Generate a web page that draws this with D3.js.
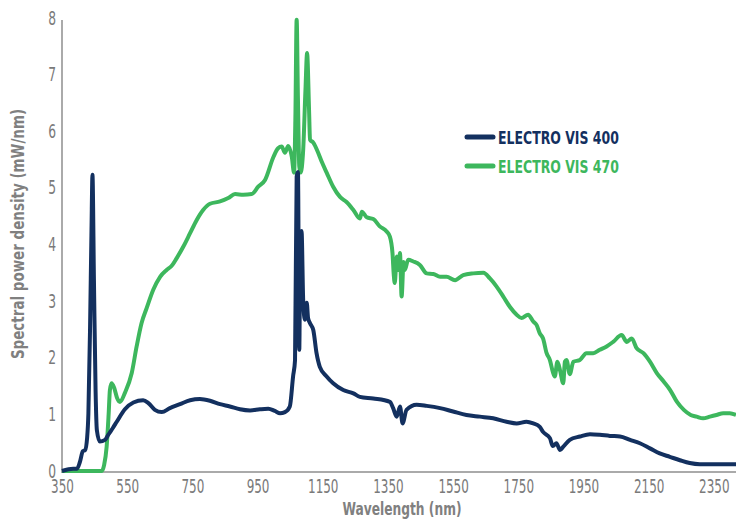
<!DOCTYPE html>
<html>
<head>
  <title>Spectral power density</title>
  <script src="https://d3js.org/d3.v7.min.js"></script>
  <style>
    body { margin: 0; background: #fff; }
    text { font-family: "DejaVu Sans Condensed", "Liberation Sans Narrow", sans-serif; }
  </style>
</head>
<body>
<script type="text/javascript">
  var w = 736;
  var h = 519;

  // wavelength (nm) / value (mW/nm)
  var vis400_nm = [350, 384, 396, 405, 414, 421, 427, 431, 436, 440.5, 443.5, 448, 453, 457, 466, 482, 492, 506, 518, 543, 569, 599, 615, 635, 656, 681, 712, 743, 773, 804, 835, 865, 896, 927, 957, 983, 1003, 1019, 1034, 1049, 1059, 1065, 1070, 1074, 1078, 1081, 1085, 1090, 1095, 1101, 1105, 1111, 1121, 1131, 1141, 1162, 1182, 1213, 1244, 1264, 1305, 1356, 1366, 1377, 1387, 1395, 1407, 1438, 1469, 1510, 1550, 1591, 1632, 1673, 1714, 1745, 1775, 1796, 1816, 1826, 1847, 1856, 1867, 1878, 1888, 1908, 1939, 1970, 2000, 2031, 2062, 2093, 2123, 2154, 2184, 2215, 2246, 2276, 2307, 2338, 2418];
  var vis400_val = [0, 0.04, 0.04, 0.16, 0.35, 0.37, 0.58, 1.02, 2.5, 4.26, 5.23, 3.37, 1.43, 0.72, 0.52, 0.55, 0.64, 0.76, 0.87, 1.09, 1.21, 1.25, 1.20, 1.08, 1.04, 1.11, 1.18, 1.25, 1.27, 1.24, 1.18, 1.14, 1.09, 1.07, 1.09, 1.10, 1.06, 1.02, 1.04, 1.14, 1.67, 1.96, 5.2, 5.28, 2.14, 3.9, 4.24, 3.02, 2.67, 2.97, 2.7, 2.61, 2.49, 2.08, 1.84, 1.67, 1.55, 1.43, 1.37, 1.31, 1.28, 1.22, 1.11, 0.96, 1.14, 0.84, 1.08, 1.17, 1.15, 1.11, 1.05, 0.99, 0.96, 0.93, 0.87, 0.84, 0.87, 0.84, 0.78, 0.69, 0.58, 0.44, 0.49, 0.37, 0.43, 0.55, 0.61, 0.65, 0.64, 0.62, 0.61, 0.55, 0.49, 0.40, 0.31, 0.25, 0.19, 0.14, 0.12, 0.12, 0.12];

  var vis470_nm = [350, 472, 479, 487, 493, 497, 502, 510, 519, 528, 543, 564, 579, 594, 610, 630, 651, 671, 686, 702, 722, 743, 763, 783, 804, 835, 860, 881, 906, 932, 952, 973, 999, 1013, 1024, 1034, 1044, 1055, 1062, 1066, 1070, 1074, 1078, 1082, 1090, 1097, 1102, 1108, 1111, 1121, 1136, 1147, 1162, 1182, 1203, 1223, 1244, 1264, 1270, 1285, 1305, 1325, 1346, 1356, 1364, 1368, 1371, 1377, 1382, 1387, 1392, 1398, 1402, 1412, 1428, 1448, 1469, 1489, 1510, 1530, 1556, 1581, 1612, 1643, 1663, 1683, 1704, 1724, 1745, 1760, 1780, 1796, 1806, 1816, 1826, 1837, 1847, 1856, 1862, 1870, 1878, 1888, 1893, 1898, 1908, 1919, 1939, 1959, 1980, 2000, 2021, 2041, 2067, 2083, 2098, 2113, 2134, 2154, 2175, 2196, 2216, 2237, 2258, 2279, 2297, 2317, 2338, 2358, 2379, 2399, 2418];
  var vis470_val = [0, 0, 0.1, 0.43, 0.99, 1.43, 1.55, 1.47, 1.29, 1.22, 1.38, 1.73, 2.20, 2.61, 2.88, 3.20, 3.43, 3.55, 3.62, 3.76, 3.96, 4.20, 4.43, 4.61, 4.72, 4.76, 4.82, 4.89, 4.88, 4.89, 5.02, 5.14, 5.55, 5.70, 5.73, 5.62, 5.74, 5.55, 5.27, 6.2, 7.97, 6.55, 5.38, 5.27, 5.67, 6.73, 7.38, 6.38, 5.85, 5.80, 5.62, 5.46, 5.27, 5.02, 4.84, 4.75, 4.61, 4.46, 4.58, 4.48, 4.45, 4.32, 4.23, 4.14, 3.85, 3.46, 3.32, 3.79, 3.55, 3.85, 3.08, 3.69, 3.55, 3.73, 3.70, 3.64, 3.49, 3.48, 3.43, 3.43, 3.37, 3.46, 3.49, 3.50, 3.40, 3.26, 3.08, 2.90, 2.76, 2.70, 2.76, 2.64, 2.58, 2.43, 2.34, 2.08, 1.96, 1.75, 1.67, 1.93, 1.78, 1.55, 1.93, 1.96, 1.71, 1.93, 1.96, 2.08, 2.08, 2.14, 2.20, 2.28, 2.40, 2.28, 2.34, 2.17, 2.08, 1.93, 1.73, 1.58, 1.43, 1.22, 1.08, 0.99, 0.96, 0.93, 0.96, 0.99, 1.02, 1.02, 0.99];

  var xTicks = [350, 550, 750, 950, 1150, 1350, 1550, 1750, 1950, 2150, 2350];
  var yTicks = [0, 1, 2, 3, 4, 5, 6, 7, 8];
  var seriesNames = ["ELECTRO VIS 400", "ELECTRO VIS 470"];
  var colors = ["#13305f", "#3db75d"];

  var svg = d3.select("body").append("svg")
    .attr("width", w)
    .attr("height", h);

  // squeeze text horizontally so it looks like the condensed font of the original
  function squeeze(sel, f) {
    sel.each(function(){
      var l = this.getComputedTextLength();
      d3.select(this).attr("textLength", l * f).attr("lengthAdjust", "spacingAndGlyphs");
    });
  }

  var x = d3.scaleLinear().domain([350, 2418]).range([62, 736]);
  var y = d3.scaleLinear().domain([0, 8]).range([471, 18]);

  // y axis
  var yAxis = svg.append("g")
    .attr("transform", "translate(62,0)")
    .call(d3.axisLeft(y).tickValues(yTicks).tickSize(0).tickPadding(6));
  yAxis.select(".domain").remove();
  yAxis.selectAll("text")
    .attr("fill", "#7a7a7a")
    .style("font-size", "19px");
  squeeze(yAxis.selectAll("text"), 0.72);

  // x axis
  var xAxis = svg.append("g")
    .attr("transform", "translate(0,472)")
    .call(d3.axisBottom(x).tickValues(xTicks).tickFormat(d3.format("d")).tickSize(0).tickPadding(8));
  xAxis.select(".domain").remove();
  xAxis.selectAll("text")
    .attr("fill", "#7a7a7a")
    .style("font-size", "19px");
  squeeze(xAxis.selectAll("text"), 0.7);

  svg.append("line")
    .attr("x1", 62).attr("x2", 62)
    .attr("y1", 20).attr("y2", 472)
    .attr("stroke", "#aaaaaa").attr("stroke-width", 2);
  svg.append("line")
    .attr("x1", 61).attr("x2", 736)
    .attr("y1", 472).attr("y2", 472)
    .attr("stroke", "#aaaaaa").attr("stroke-width", 2);

  var line = d3.line()
    .x(function(d){ return x(d[0]); })
    .y(function(d){ return y(d[1]); })
    .curve(d3.curveMonotoneX);

  var s400 = vis400_nm.map(function(n, i){ return [n, vis400_val[i]]; });
  var s470 = vis470_nm.map(function(n, i){ return [n, vis470_val[i]]; });

  // green first so navy sits on top
  svg.append("path")
    .datum(s470)
    .attr("d", line)
    .attr("fill", "none")
    .attr("stroke", colors[1])
    .attr("stroke-width", 4)
    .attr("stroke-linejoin", "round");

  svg.append("path")
    .datum(s400)
    .attr("d", line)
    .attr("fill", "none")
    .attr("stroke", colors[0])
    .attr("stroke-width", 4)
    .attr("stroke-linejoin", "round");

  //legend
  var legend = svg.selectAll(".legend")
    .data(seriesNames)
    .enter()
    .append("g")
    .attr("transform", function(d, i){ return "translate(467," + (137 + i * 29) + ")"; });
  legend.append("line")
    .attr("x1", 0).attr("x2", 26)
    .attr("stroke", function(d, i){ return colors[i]; })
    .attr("stroke-width", 5)
    .attr("stroke-linecap", "round");
  var legText = legend.append("text")
    .attr("x", 31)
    .attr("y", 7)
    .attr("fill", function(d, i){ return colors[i]; })
    .style("font-size", "18px")
    .style("font-weight", "bold")
    .text(function(d){ return d; });
  squeeze(legText, 0.77);

  // axis titles
  var xTitle = svg.append("text")
    .attr("x", 402)
    .attr("y", 515)
    .attr("text-anchor", "middle")
    .attr("fill", "#808080")
    .style("font-size", "17px")
    .style("font-weight", "bold")
    .text("Wavelength (nm)");
  squeeze(xTitle, 0.8);

  var yTitle = svg.append("text")
    .attr("transform", "translate(24,234) rotate(-90)")
    .attr("text-anchor", "middle")
    .attr("fill", "#808080")
    .style("font-size", "17px")
    .style("font-weight", "bold")
    .text("Spectral power density (mW/nm)");
  squeeze(yTitle, 0.88);
</script>
</body>
</html>
